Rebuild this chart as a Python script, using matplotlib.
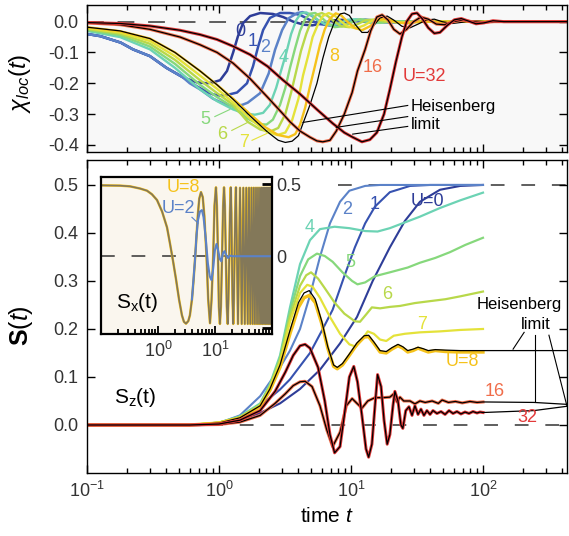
import numpy as np
import matplotlib
matplotlib.use("Agg")
import matplotlib.pyplot as plt
from matplotlib.ticker import LogLocator, FixedLocator, FormatStrFormatter, NullFormatter, NullLocator

plt.rcParams["font.family"] = ["Liberation Sans", "DejaVu Sans"]
plt.rcParams["mathtext.fontset"] = "custom"
plt.rcParams["mathtext.rm"] = "Liberation Sans"
plt.rcParams["mathtext.it"] = "Liberation Sans:italic"
plt.rcParams["mathtext.bf"] = "Liberation Sans:bold"
plt.rcParams["axes.unicode_minus"] = False

# colours per U
col = {0: "#2e3d98", 1: "#3652b0", 2: "#5b82c8", 4: "#6cd3b4", 5: "#86d87c",
       6: "#b8d84a", 7: "#e4e23a", 8: "#f5c21b", 16: "#f06d4a", 32: "#e23a3a"}

# ---------------- top panel: chi_loc(t) ----------------
chi_t_u0 = [0.1, 0.126, 0.18, 0.223, 0.30, 0.40, 0.53, 0.68, 0.81, 0.90, 1.02, 1.15, 1.28, 1.39, 1.52,
            1.72, 2.05, 2.56, 3.06, 3.65, 4.4, 5.1, 6.1, 7.3, 8.6, 10.5, 14, 20, 433]
chi_u0 = [-0.040, -0.047, -0.068, -0.090, -0.112, -0.150, -0.180, -0.197, -0.200, -0.197, -0.190, -0.160,
          -0.100, -0.048, -0.005, 0.018, 0.028, 0.025, 0.015, 0.0, -0.010, -0.012, -0.005, 0.004, 0.006,
          0.002, -0.002, 0.0, 0.0]
chi_t_u1 = [0.1, 0.126, 0.18, 0.223, 0.30, 0.40, 0.53, 0.60, 0.68, 0.81, 0.90, 1.02, 1.15, 1.37, 1.63,
            1.81, 1.98, 2.16, 2.43, 2.9, 3.45, 4.11, 4.9, 5.8, 6.9, 8.3, 9.7, 11.2, 14, 18, 28, 433]
chi_u1 = [-0.040, -0.047, -0.068, -0.090, -0.112, -0.150, -0.180, -0.195, -0.210, -0.228, -0.236, -0.240,
          -0.238, -0.230, -0.200, -0.145, -0.081, -0.027, 0.012, 0.028, 0.028, 0.022, 0.005, -0.008,
          -0.012, -0.006, 0.003, 0.006, 0.002, -0.002, 0.0, 0.0]
chi_t_u2 = [0.1, 0.126, 0.18, 0.223, 0.30, 0.40, 0.53, 0.60, 0.72, 0.90, 1.11, 1.28, 1.50, 1.65, 2.05,
            2.38, 2.66, 3.01, 3.37, 3.92, 4.3, 5.0, 5.6, 6.5, 7.7, 9.2, 10.9, 12.8, 16, 20, 33, 433]
chi_u2 = [-0.040, -0.047, -0.068, -0.090, -0.112, -0.150, -0.180, -0.200, -0.220, -0.250, -0.268, -0.274,
          -0.270, -0.263, -0.232, -0.168, -0.091, -0.027, 0.011, 0.028, 0.031, 0.020, 0.005, -0.010,
          -0.015, -0.008, 0.003, 0.007, 0.002, -0.003, 0.0, 0.0]
chi_t_u4 = [0.1, 0.178, 0.3, 0.464, 0.718, 0.967, 1.28, 1.57, 1.87, 2.16, 2.43, 2.71, 2.95, 3.24, 3.52,
            3.85, 4.18, 4.58, 5.07, 5.63, 6.33, 7.17, 8.26, 9.39, 10.9, 12.8, 15.2, 19.7, 33.3, 433]
chi_u4 = [-0.030, -0.050, -0.090, -0.150, -0.220, -0.258, -0.285, -0.298, -0.302, -0.296, -0.270, -0.215,
          -0.160, -0.100, -0.040, 0.005, 0.027, 0.030, 0.020, 0.005, -0.008, -0.012, -0.005, 0.006, 0.008,
          0.0, -0.005, 0.002, 0.0, 0.0]
chi_t_u5 = [0.1, 0.178, 0.3, 0.464, 0.718, 0.967, 1.28, 1.65, 1.98, 2.29, 2.56, 2.9, 3.18, 3.45, 3.78,
            4.11, 4.49, 4.89, 5.36, 5.92, 6.67, 7.51, 8.62, 10.0, 11.7, 13.9, 16.6, 21.5, 33.3, 433]
chi_u5 = [-0.027, -0.044, -0.081, -0.137, -0.205, -0.245, -0.278, -0.315, -0.332, -0.334, -0.318, -0.270,
          -0.215, -0.150, -0.085, -0.030, 0.008, 0.026, 0.028, 0.015, -0.005, -0.018, -0.015, -0.002,
          0.008, 0.004, -0.004, 0.001, 0.0, 0.0]
chi_t_u6 = [0.1, 0.178, 0.3, 0.464, 0.718, 0.967, 1.28, 1.65, 2.05, 2.43, 2.81, 3.18, 3.52, 3.85, 4.18,
            4.58, 4.98, 5.46, 6.02, 6.67, 7.51, 8.44, 9.72, 11.2, 13.0, 15.2, 18.1, 23.5, 39.7, 433]
chi_u6 = [-0.024, -0.039, -0.072, -0.124, -0.190, -0.232, -0.270, -0.325, -0.350, -0.357, -0.345, -0.300,
          -0.230, -0.160, -0.095, -0.040, 0.0, 0.022, 0.028, 0.018, 0.0, -0.015, -0.018, -0.008, 0.005,
          0.007, 0.0, -0.003, 0.0, 0.0]
chi_t_u7 = [0.1, 0.178, 0.3, 0.464, 0.718, 0.967, 1.28, 1.72, 2.25, 2.76, 3.18, 3.58, 4.0, 4.33, 4.74,
            5.12, 5.63, 6.11, 6.78, 7.51, 8.29, 9.39, 10.9, 12.6, 14.4, 16.6, 19.7, 23.5, 30.5, 433]
chi_u7 = [-0.021, -0.035, -0.063, -0.112, -0.175, -0.218, -0.262, -0.315, -0.355, -0.368, -0.360, -0.320,
          -0.250, -0.175, -0.110, -0.050, -0.008, 0.018, 0.028, 0.020, 0.003, -0.015, -0.022, -0.012,
          0.003, 0.008, 0.002, -0.004, 0.0, 0.0]
chi_t_u8 = [0.1, 0.178, 0.3, 0.464, 0.718, 0.967, 1.28, 1.72, 2.25, 2.81, 3.37, 3.78, 4.11, 4.49, 4.89,
            5.36, 5.82, 6.33, 6.93, 7.66, 8.44, 9.39, 10.7, 12.1, 13.9, 15.9, 18.5, 21.5, 25.6, 33.3, 433]
chi_u8 = [-0.018, -0.031, -0.055, -0.100, -0.160, -0.205, -0.250, -0.300, -0.343, -0.368, -0.375, -0.365,
          -0.335, -0.280, -0.210, -0.140, -0.075, -0.025, 0.010, 0.027, 0.020, 0.0, -0.020, -0.028, -0.015,
          0.005, 0.010, 0.0, -0.006, 0.0, 0.0]
chi_t_heis8 = [0.1, 0.178, 0.3, 0.464, 0.718, 0.967, 1.28, 1.72, 2.33, 2.81, 3.18, 3.58, 4.0, 4.33, 4.89,
               5.52, 6.11, 6.78, 7.51, 8.29, 8.9, 9.72, 10.9, 12.1, 13.4, 14.9, 16.6, 18.8, 21.1, 24.3,
               28.0, 32.2, 37.1, 42.8, 49.0, 58.4, 69.7, 82.6, 103.5, 433]
chi_heis8 = [-0.018, -0.030, -0.055, -0.100, -0.160, -0.205, -0.252, -0.306, -0.358, -0.385, -0.392, -0.388,
             -0.370, -0.330, -0.270, -0.200, -0.120, -0.050, 0.0, 0.025, 0.028, 0.020, -0.012, -0.035,
             -0.035, -0.012, 0.012, 0.018, 0.005, -0.015, -0.020, -0.008, 0.005, 0.008, 0.0, -0.006,
             -0.002, 0.003, 0.0, 0.0]
chi_t_u16 = [0.1, 0.178, 0.3, 0.507, 0.718, 0.967, 1.28, 1.72, 2.33, 3.06, 3.45, 4.11, 4.89, 5.52, 6.11,
             6.93, 7.74, 8.9, 10.2, 11.2, 12.8, 14.1, 15.7, 17.2, 19.1, 21.1, 23.5, 26.4, 29.8, 33.9, 38.5,
             44.3, 51.0, 59.5, 69.7, 82.6, 98.0, 121.5, 433]
chi_u16 = [-0.004, -0.010, -0.025, -0.050, -0.075, -0.100, -0.135, -0.185, -0.245, -0.300, -0.325, -0.355,
           -0.375, -0.387, -0.390, -0.385, -0.355, -0.300, -0.230, -0.160, -0.090, -0.030, 0.015, 0.022,
           0.005, -0.025, -0.040, -0.025, 0.0, 0.015, 0.008, -0.008, -0.010, 0.0, 0.005, 0.0, -0.003, 0.0, 0.0]
chi_t_u32 = [0.1, 0.178, 0.3, 0.507, 0.718, 0.967, 1.28, 1.72, 2.33, 3.06, 4.11, 5.52, 7.26, 8.9, 10.3,
             12.1, 13.9, 15.7, 17.8, 19.7, 21.9, 24.3, 26.4, 29.0, 31.6, 34.6, 38.5, 42.8, 47.2, 53.7, 60.7,
             68.5, 77.4, 88.6, 101.7, 119.0, 144.0, 433]
chi_u32 = [-0.003, -0.006, -0.014, -0.028, -0.042, -0.058, -0.080, -0.107, -0.145, -0.190, -0.235, -0.285,
           -0.330, -0.360, -0.375, -0.390, -0.383, -0.360, -0.300, -0.220, -0.130, -0.050, 0.0, 0.025,
           0.028, 0.010, -0.020, -0.038, -0.035, -0.012, 0.006, 0.010, 0.002, -0.007, -0.004, 0.003, 0.0, 0.0]

# ---------------- bottom panel: S_z(t) ----------------
s_t_u0 = [0.1, 0.72, 1.0, 1.44, 2.05, 2.9, 4.11, 5.82, 8.26, 11.1, 14.6, 19.7, 25.6, 33.3, 47.2, 67.3, 100]
s_u0 = [0.0, 0.0, 0.002, 0.010, 0.025, 0.045, 0.075, 0.115, 0.170, 0.225, 0.300, 0.370, 0.425, 0.465,
        0.490, 0.498, 0.500]
s_t_u1 = [0.1, 0.72, 1.0, 1.44, 2.05, 2.9, 3.45, 4.89, 6.11, 7.26, 8.9, 10.7, 12.8, 15.2, 19.7, 28.0, 39.7, 100]
s_u1 = [0.0, 0.0, 0.003, 0.015, 0.040, 0.074, 0.095, 0.150, 0.200, 0.240, 0.310, 0.370, 0.420, 0.455,
        0.485, 0.498, 0.500, 0.500]
s_t_u2 = [0.1, 0.72, 1.0, 1.44, 2.05, 2.9, 3.45, 4.11, 4.89, 5.82, 6.93, 8.26, 9.72, 12.8, 16.6, 100]
s_u2 = [0.0, 0.0, 0.004, 0.020, 0.060, 0.120, 0.155, 0.200, 0.270, 0.350, 0.420, 0.465, 0.488, 0.498,
        0.500, 0.500]
s_t_u4 = [0.1, 0.6, 1.0, 1.44, 2.05, 2.43, 2.9, 3.45, 4.11, 4.89, 5.82, 7.51, 9.72, 12.8, 15.9, 19.7, 25.6,
          33.3, 47.2, 67.3, 100]
s_u4 = [0.0, 0.0, 0.005, 0.018, 0.045, 0.085, 0.145, 0.245, 0.335, 0.385, 0.408, 0.413, 0.410, 0.404,
        0.403, 0.410, 0.422, 0.434, 0.452, 0.468, 0.484]
s_t_u5 = [0.1, 0.6, 1.0, 1.44, 2.05, 2.43, 2.9, 3.45, 4.11, 4.74, 5.52, 6.33, 7.26, 8.62, 10.2, 11.2, 12.8,
          15.2, 19.7, 26.9, 33.3, 43.5, 56.2, 73.3, 100]
s_u5 = [0.0, 0.0, 0.005, 0.017, 0.043, 0.082, 0.140, 0.235, 0.310, 0.345, 0.357, 0.352, 0.340, 0.318,
        0.300, 0.293, 0.297, 0.310, 0.318, 0.328, 0.338, 0.348, 0.360, 0.375, 0.390]
s_t_u6 = [0.1, 0.6, 1.0, 1.44, 2.05, 2.43, 2.9, 3.45, 4.11, 4.58, 4.98, 5.63, 6.33, 7.51, 8.9, 10.7, 11.7,
          13.0, 14.4, 16.6, 19.7, 23.5, 30.5, 39.7, 51.9, 67.3, 100]
s_u6 = [0.0, 0.0, 0.005, 0.016, 0.041, 0.080, 0.135, 0.225, 0.290, 0.312, 0.318, 0.305, 0.285, 0.255,
        0.232, 0.216, 0.215, 0.230, 0.245, 0.243, 0.246, 0.248, 0.254, 0.258, 0.262, 0.268, 0.278]
s_t_u7 = [0.1, 0.6, 1.0, 1.44, 2.05, 2.43, 2.9, 3.45, 4.11, 4.66, 5.12, 5.82, 6.93, 8.26, 9.72, 10.9, 12.1,
          13.4, 14.9, 16.6, 18.5, 21.1, 25.6, 33.3, 47.2, 67.3, 100]
s_u7 = [0.0, 0.0, 0.005, 0.015, 0.040, 0.078, 0.130, 0.215, 0.275, 0.292, 0.288, 0.265, 0.225, 0.190,
        0.168, 0.163, 0.178, 0.195, 0.190, 0.178, 0.175, 0.186, 0.190, 0.193, 0.195, 0.198, 0.200]
s_t_u8 = [0.1, 0.6, 1.0, 1.44, 2.05, 2.43, 2.9, 3.45, 4.0, 4.41, 4.83, 5.36, 6.02, 6.67, 7.38, 7.87, 8.62,
          9.72, 11.1, 12.6, 13.6, 14.9, 16.6, 18.5, 20.4, 22.7, 24.7, 26.9, 29.5, 32.2, 35.2, 38.5, 43.5,
          51.9, 67.3, 100]
s_u8 = [0.0, 0.0, 0.004, 0.014, 0.038, 0.072, 0.120, 0.190, 0.245, 0.265, 0.270, 0.255, 0.210, 0.160,
        0.122, 0.117, 0.125, 0.145, 0.168, 0.183, 0.184, 0.170, 0.152, 0.150, 0.158, 0.165, 0.160, 0.152,
        0.155, 0.160, 0.156, 0.152, 0.155, 0.153, 0.152, 0.152]
s_t_heis8 = s_t_u8 + [200, 433]
s_heis8 = [0.0, 0.0, 0.004, 0.015, 0.040, 0.075, 0.125, 0.197, 0.255, 0.275, 0.280, 0.262, 0.215, 0.163,
           0.125, 0.120, 0.128, 0.148, 0.171, 0.186, 0.187, 0.173, 0.155, 0.153, 0.161, 0.168, 0.163,
           0.155, 0.158, 0.162, 0.159, 0.155, 0.157, 0.156, 0.155, 0.155, 0.155, 0.155]
s_t_u16 = [0.1, 0.6, 1.0, 1.44, 2.05, 2.66, 3.18, 3.65, 4.11, 4.49, 5.07, 5.82, 6.55, 7.26, 8.26, 9.22,
           10.2, 11.1, 12.1, 13.4, 15.2, 17.5, 19.7, 21.1, 22.3, 23.5, 25.1, 28.0, 30.5, 33.3, 36.5, 41.2,
           45.9, 49.0, 54.7, 61.8, 69.7, 79.7, 90.2, 100]
s_u16 = [0.0, 0.0, 0.001, 0.006, 0.020, 0.045, 0.065, 0.082, 0.090, 0.091, 0.080, 0.040, -0.010, -0.045,
         -0.015, 0.040, 0.055, 0.045, 0.035, 0.050, 0.057, 0.057, 0.058, 0.065, 0.048, 0.058, 0.050, 0.050,
         0.044, 0.050, 0.047, 0.050, 0.045, 0.052, 0.047, 0.049, 0.046, 0.049, 0.047, 0.048]
s_t_u32 = [0.1, 0.6, 1.0, 1.44, 2.05, 2.66, 3.18, 3.65, 4.11, 4.49, 4.89, 5.63, 6.33, 6.93, 7.51, 8.26,
           8.9, 9.72, 10.5, 11.2, 12.1, 13.0, 13.6, 14.4, 15.2, 15.9, 16.9, 17.8, 18.8, 19.7, 20.8, 21.5,
           22.7, 23.9, 24.7, 26.0, 27.5, 29.0, 30.5, 32.2, 33.9, 35.7, 37.6, 39.7, 41.8, 44.8, 48.1, 51.6,
           55.3, 59.3, 63.5, 68.1, 73.1, 78.3, 84.0, 90.1, 94.9, 100]
s_u32 = [0.0, 0.0, 0.002, 0.010, 0.030, 0.070, 0.110, 0.145, 0.165, 0.168, 0.160, 0.120, 0.050, -0.020,
         -0.058, -0.045, 0.020, 0.100, 0.122, 0.090, 0.020, -0.050, -0.067, -0.040, 0.040, 0.105, 0.080,
         0.010, -0.040, -0.020, 0.040, 0.070, 0.050, 0.000, -0.007, 0.030, 0.038, 0.020, 0.040, 0.022,
         0.033, 0.020, 0.030, 0.022, 0.030, 0.024, 0.028, 0.022, 0.030, 0.024, 0.028, 0.023, 0.027,
         0.024, 0.028, 0.025, 0.027, 0.026]
# Heisenberg limit beyond t=100
heis_tail_t = [100, 243, 433]
heis16_tail = [0.048, 0.047, 0.043]
heis32_tail = [0.026, 0.030, 0.039]

# ---------------- inset: S_x(t) ----------------
sx8_t_head = [0.1, 0.215, 0.323, 0.483, 0.641, 0.782, 0.961, 1.18, 1.44, 1.62, 1.83, 2.07, 2.34, 2.63,
              2.85, 3.1, 3.4, 3.63, 3.94, 4.2, 4.45, 4.75, 5.03, 5.3, 5.68, 6.1, 6.5, 7.1, 7.6, 8.17, 8.7,
              9.3, 9.8, 10.4, 10.8, 11.3, 11.7, 12.2, 12.7, 13.3, 13.9, 14.4, 14.9, 15.5, 16.1, 16.7, 17.2,
              17.8, 18.3, 18.9, 19.4, 19.8, 20.3, 20.9, 21.5, 22.0, 22.6, 23.3]
sx8_head = [0.492, 0.49, 0.485, 0.47, 0.455, 0.43, 0.39, 0.31, 0.2, 0.09, -0.03, -0.16, -0.3, -0.41,
            -0.455, -0.468, -0.45, -0.41, -0.3, -0.17, -0.03, 0.15, 0.3, 0.4, 0.445, 0.41, 0.28, 0.0, -0.3,
            -0.465, -0.3, 0.0, 0.35, 0.478, 0.35, 0.0, -0.35, -0.47, -0.35, 0.0, 0.35, 0.478, 0.35, 0.0,
            -0.35, -0.47, -0.3, 0.0, 0.3, 0.478, 0.3, 0.0, -0.3, -0.47, -0.3, 0.0, 0.3, 0.478]
# dense oscillations: times of the extrema
sx8_trough_t = [25.3, 29.4, 33.3, 37.5, 41.6, 45.8, 50.1, 54.6, 59.2, 63.8, 68.1, 72.7, 77.5, 82.0,
                86.9, 91.9, 96.8]
sx8_peak_t = [27.5, 31.4, 35.4, 39.5, 43.7, 48.0, 52.4, 56.8, 61.5, 65.9, 70.4, 75.0, 79.8, 84.4, 89.3,
              94.2, 99.1]
sx8_trough = -0.47
sx8_peak = 0.475
sx2_t = [3.94, 4.45, 4.75, 5.03, 5.44, 5.9, 6.3, 6.9, 7.5, 8.1, 8.65, 9.2, 9.96, 10.6, 11.2, 12.2, 12.9,
         13.8, 14.7, 15.6, 16.9, 18.3, 20.4, 100]
sx2 = [-0.3, -0.03, 0.15, 0.25, 0.31, 0.32, 0.27, 0.12, -0.05, -0.14, -0.165, -0.1, 0.04, 0.085, 0.05,
       -0.02, -0.035, 0.02, 0.035, 0.01, -0.012, 0.004, 0.0, 0.0]


def style_axis(ax):
    for spine in ax.spines.values():
        spine.set_linewidth(1.0)
    ax.set_xscale("log")
    ax.xaxis.set_major_locator(LogLocator(base=10, numticks=10))
    ax.xaxis.set_minor_locator(LogLocator(base=10, subs=np.arange(2, 10), numticks=20))
    ax.tick_params(which="both", direction="in", top=True, right=True, width=1.0,
                   labelsize=13, labelcolor="#333333", pad=6)
    ax.tick_params(which="major", length=6)
    ax.tick_params(which="minor", length=3.5)


fig = plt.figure(figsize=(5.69, 5.36), dpi=100)
ax_top = fig.add_axes([87 / 569, 1 - 152 / 536, 480 / 569, 147 / 536])
ax_bot = fig.add_axes([87 / 569, 1 - 473 / 536, 480 / 569, 313 / 536])
ax_in = fig.add_axes([101 / 569, 1 - 334 / 536, 171 / 569, 157 / 536])

# ---- top panel
ax = ax_top
style_axis(ax)
ax.set_facecolor("#f8f8f8")
ax.axhline(0, color="#333333", lw=1.1, ls=(0, (11, 9)), zorder=0.5)
for t, v, u in [(chi_t_u0, chi_u0, 0), (chi_t_u1, chi_u1, 1), (chi_t_u2, chi_u2, 2)]:
    ax.plot(t, v, color=col[u], lw=1.8)
for t, v, u in [(chi_t_u4, chi_u4, 4), (chi_t_u5, chi_u5, 5), (chi_t_u6, chi_u6, 6),
                (chi_t_u7, chi_u7, 7), (chi_t_u8, chi_u8, 8)]:
    ax.plot(t, v, color=col[u], lw=1.7)
ax.plot(chi_t_heis8, chi_heis8, color="black", lw=0.9)
for t, v, u in [(chi_t_u16, chi_u16, 16), (chi_t_u32, chi_u32, 32)]:
    ax.plot(t, v, color=col[u], lw=2.2)
    ax.plot(t, v, color="black", lw=0.9)
ax.set_xlim(0.1, 433)
ax.set_ylim(-0.423, 0.054)
ax.yaxis.set_major_locator(FixedLocator([-0.4, -0.3, -0.2, -0.1, 0.0]))
ax.yaxis.set_major_formatter(FormatStrFormatter("%.1f"))
ax.tick_params(labelbottom=False)
ax.set_ylabel(r"$\chi_{loc}(t)$", fontsize=17)
ax.yaxis.set_label_coords(-0.112, 0.47)

for txt, t, v, u in [("0", 1.44, -0.033, 0), ("1", 1.81, -0.065, 1), ("2", 2.25, -0.085, 2),
                     ("4", 3.1, -0.117, 4), ("8", 7.51, -0.114, 8), ("16", 14.7, -0.149, 16),
                     ("U=32", 35.7, -0.178, 32), ("5", 0.79, -0.317, 5), ("6", 1.05, -0.366, 6),
                     ("7", 1.55, -0.392, 7)]:
    ax.text(t, v, txt, color=col[u], fontsize=13, ha="center", va="center")
for (t0, t1, v0, v1, u) in [(0.93, 1.21, -0.308, -0.285, 5), (1.25, 1.65, -0.353, -0.327, 6),
                            (1.78, 2.33, -0.385, -0.362, 7)]:
    ax.plot([t0, t1], [v0, v1], color=col[u], lw=0.8)
for (v0, t1, v1) in [(-0.272, 4.33, -0.327), (-0.308, 7.74, -0.343), (-0.340, 10.3, -0.365)]:
    ax.plot([26.9, t1], [v0, v1], color="black", lw=0.8)
ax.text(28.5, -0.275, "Heisenberg", fontsize=12, ha="left", va="center")
ax.text(28.5, -0.333, "limit", fontsize=12, ha="left", va="center")

# ---- bottom panel
ax = ax_bot
style_axis(ax)
ax.axhline(0, color="#333333", lw=1.1, ls=(0, (9, 11)), zorder=0.5)
ax.hlines(0.5, 8.0, 433, color="#333333", lw=1.1, linestyles=[(0, (9, 11))], zorder=0.5)
for t, v, u in [(s_t_u0, s_u0, 0), (s_t_u1, s_u1, 1), (s_t_u2, s_u2, 2)]:
    ax.plot(t, v, color=col[u], lw=1.5)
for t, v, u in [(s_t_u4, s_u4, 4), (s_t_u5, s_u5, 5), (s_t_u6, s_u6, 6), (s_t_u7, s_u7, 7)]:
    ax.plot(t, v, color=col[u], lw=1.6)
ax.plot(s_t_u8, s_u8, color=col[8], lw=2.4)
ax.plot(s_t_heis8, s_heis8, color="black", lw=0.9)
for t, v, tail, u in [(s_t_u16, s_u16, heis16_tail, 16), (s_t_u32, s_u32, heis32_tail, 32)]:
    ax.plot(t, v, color=col[u], lw=2.2)
    ax.plot(t + heis_tail_t[1:], v + tail[1:], color="black", lw=0.9)
ax.set_xlim(0.1, 433)
ax.set_ylim(-0.1, 0.552)
ax.yaxis.set_major_locator(FixedLocator([0.0, 0.1, 0.2, 0.3, 0.4, 0.5]))
ax.yaxis.set_major_formatter(FormatStrFormatter("%.1f"))
ax.set_ylabel(r"$\mathbf{S}(t)$", fontsize=18)
ax.yaxis.set_label_coords(-0.108, 0.47)
ax.set_xlabel(r"time $t$", fontsize=15)
ax.xaxis.set_label_coords(0.5, -0.11)

for txt, t, v, u in [("U=0", 37.7, 0.466, 0), ("1", 15.2, 0.46, 1), ("2", 9.33, 0.449, 2),
                     ("4", 4.89, 0.412, 4), ("5", 9.8, 0.338, 5), ("6", 18.7, 0.272, 6),
                     ("7", 34.5, 0.21, 7), ("U=8", 69.3, 0.133, 8), ("16", 123, 0.07, 16),
                     ("32", 218, 0.016, 32)]:
    ax.text(t, v, txt, color=col[u], fontsize=13, ha="center", va="center")
ax.text(90, 0.251, "Heisenberg", fontsize=12, ha="left", va="center", clip_on=False)
ax.text(251, 0.209, "limit", fontsize=12, ha="center", va="center")
for (t0, v0, t1, v1) in [(205, 0.193, 169, 0.158), (248, 0.187, 248, 0.049), (316, 0.187, 433, 0.039)]:
    ax.plot([t0, t1], [v0, v1], color="black", lw=0.8, clip_on=False)
ax.text(0.231, 0.057, r"$\mathregular{S_z(t)}$", fontsize=15, ha="center", va="center")

# ---- inset
ax = ax_in
ax.set_facecolor("#faf6ee")
for spine in ax.spines.values():
    spine.set_linewidth(1.6)
ax.set_xscale("log")
ax.axhline(0, color="#333333", lw=1.1, ls=(0, (9, 11)), zorder=0.5)
ext_t = sorted(sx8_trough_t + sx8_peak_t)
ext_v = [sx8_peak if tt in sx8_peak_t else sx8_trough for tt in ext_t]
sx8_t = sx8_t_head + ext_t
sx8 = sx8_head + ext_v
ax.plot(sx8_t, sx8, color=col[8], lw=1.8)
ax.plot(sx8_t, sx8, color="#777060", lw=1.2, alpha=0.9)
ax.plot(sx2_t, sx2, color=col[2], lw=1.5)
ax.set_xlim(0.1, 100)
ax.set_ylim(-0.54, 0.55)
ax.xaxis.set_major_locator(FixedLocator([1, 10]))
ax.xaxis.set_minor_locator(LogLocator(base=10, subs=np.arange(2, 10), numticks=20))
ax.xaxis.set_major_formatter(FormatStrFormatter("%d"))
ax.set_xticklabels([r"$\mathregular{10^0}$", r"$\mathregular{10^1}$"])
ax.xaxis.set_minor_formatter(NullFormatter())
ax.yaxis.tick_right()
ax.yaxis.set_major_locator(FixedLocator([-0.5, 0.0, 0.5]))
ax.set_yticklabels(["", "0", "0.5"])
ax.yaxis.set_minor_locator(NullLocator())
ax.tick_params(axis="x", which="both", direction="in", top=False, bottom=True, width=1.3,
               labelsize=13, labelcolor="#333333", pad=5)
ax.tick_params(axis="x", which="major", length=6)
ax.tick_params(axis="x", which="minor", length=3.5)
ax.tick_params(axis="y", which="both", direction="in", left=False, right=True, length=7, width=2,
               labelsize=13, labelcolor="#333333", pad=3)
ax.text(2.75, 0.479, "U=8", color=col[8], fontsize=13, ha="center", va="center")
ax.text(2.24, 0.333, "U=2", color=col[2], fontsize=13, ha="center", va="center")
ax.plot([3.94, 5.03], [0.27, 0.23], color=col[2], lw=0.8)
ax.text(0.428, -0.32, r"$\mathregular{S_x(t)}$", fontsize=15, ha="center", va="center")

fig.savefig("out.png", dpi=100)
